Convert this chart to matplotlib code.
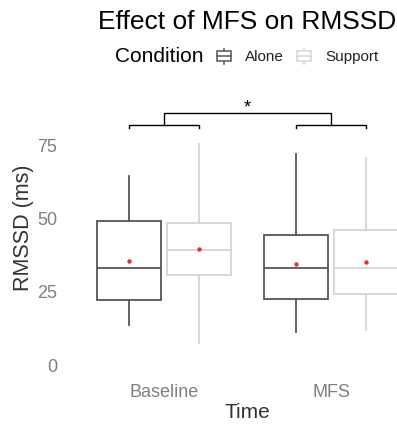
import numpy as np
import matplotlib.pyplot as plt
from matplotlib.lines import Line2D
from matplotlib.patches import Rectangle

plt.rcParams['font.family'] = ['Liberation Sans', 'DejaVu Sans']

# data (RMSSD in ms)
times = ['Baseline', 'MFS']
conditions = ['Alone', 'Support']
whislo = [[13.6, 7.5], [11.3, 11.9]]
q1 = [[22.2, 30.7], [22.5, 24.2]]
med = [[33.1, 39.2], [33.1, 33.1]]
q3 = [[49.1, 48.5], [44.4, 46.1]]
whishi = [[64.5, 75.5], [72.0, 70.6]]
means = [[35.5, 39.6], [34.5, 35.2]]
yticks = [0, 25, 50, 75]

colors = {'Alone': '#555555', 'Support': '#d4d4d4'}
dodge = 0.21
box_w = 0.38

fig = plt.figure(figsize=(3.97, 4.24), dpi=100)
W, H = 397, 424
# axes placed in pixel units to match the reference
left, right, top, bottom = 64, 397, 95, 380
ax = fig.add_axes([left / W, 1 - bottom / H, (right - left) / W, (bottom - top) / H])

for i, t in enumerate(times):
    for j, c in enumerate(conditions):
        pos = i + 1 + (j - 0.5) * 2 * dodge
        st = [dict(whislo=whislo[i][j], q1=q1[i][j], med=med[i][j],
                   q3=q3[i][j], whishi=whishi[i][j], fliers=[])]
        col = colors[c]
        ax.bxp(st, positions=[pos], widths=box_w, showcaps=False,
               showfliers=False, patch_artist=True,
               boxprops=dict(facecolor='white', edgecolor=col, linewidth=1.3),
               medianprops=dict(color=col, linewidth=1.3),
               whiskerprops=dict(color=col, linewidth=1.3))
        ax.plot(pos, means[i][j], 'o', color='#e8302a', markersize=3.2,
                markeredgewidth=0, zorder=5)

# significance brackets
def bracket(x1, x2, y, tip):
    ax.plot([x1, x1, x2, x2], [y - tip, y, y, y - tip], color='black',
            lw=1.0, clip_on=False)

for i in range(2):
    bracket(i + 1 - dodge, i + 1 + dodge, 81.8, 1.0)
bracket(1, 2, 85.9, 4.1)
ax.text(1.5, 84.6, '*', ha='center', va='bottom', fontsize=13, color='black')

x0 = 1 - (164 - left) / 167
ax.set_xlim(x0, x0 + (right - left) / 167)
ax.set_ylim(-(bottom - 365) / 2.933, (365 - top) / 2.933)

ax.set_xticks([1, 2])
ax.set_xticklabels(times)
ax.set_yticks(yticks)
ax.tick_params(length=0, labelsize=13, labelcolor='#7f7f7f')
ax.tick_params(axis='x', pad=3)
ax.tick_params(axis='y', pad=5)
for s in ax.spines.values():
    s.set_visible(False)

ax.set_xlabel('Time', fontsize=15, color='#333333')
ax.xaxis.set_label_coords((247 - left) / (right - left), -(413 - bottom) / (bottom - top))
ax.xaxis.label.set_va('center')
ax.set_ylabel('RMSSD (ms)', fontsize=15.5, color='#333333')
ax.yaxis.set_label_coords((24 - left) / (right - left), (bottom - 228) / (bottom - top))
ax.yaxis.label.set_va('center')

fig.text(247 / W, 1 - 22 / H, 'Effect of MFS on RMSSD', ha='center', va='center',
         fontsize=19, color='black')

# legend drawn by hand, ggplot style (title to the left)
fig.text(115 / W, 1 - 57 / H, 'Condition', ha='left', va='center', fontsize=15,
         color='black')

def key(cx, col):
    tf = fig.transFigure
    fig.add_artist(Line2D([cx / W, cx / W], [1 - 49 / H, 1 - 64 / H], color=col,
                          lw=1.1, transform=tf, zorder=1))
    fig.add_artist(Rectangle(((cx - 7) / W, 1 - 61 / H), 14 / W, 10 / H,
                             facecolor='white', edgecolor=col, lw=1.1,
                             transform=tf, zorder=2))
    fig.add_artist(Line2D([(cx - 7) / W, (cx + 7) / W], [1 - 56 / H, 1 - 56 / H],
                          color=col, lw=1.1, transform=tf, zorder=3))

key(224, colors['Alone'])
fig.text(245 / W, 1 - 57 / H, 'Alone', ha='left', va='center', fontsize=11,
         color='#222222')
key(304, colors['Support'])
fig.text(325 / W, 1 - 57 / H, 'Support', ha='left', va='center', fontsize=11,
         color='#222222')

fig.savefig('out.png', dpi=100)
